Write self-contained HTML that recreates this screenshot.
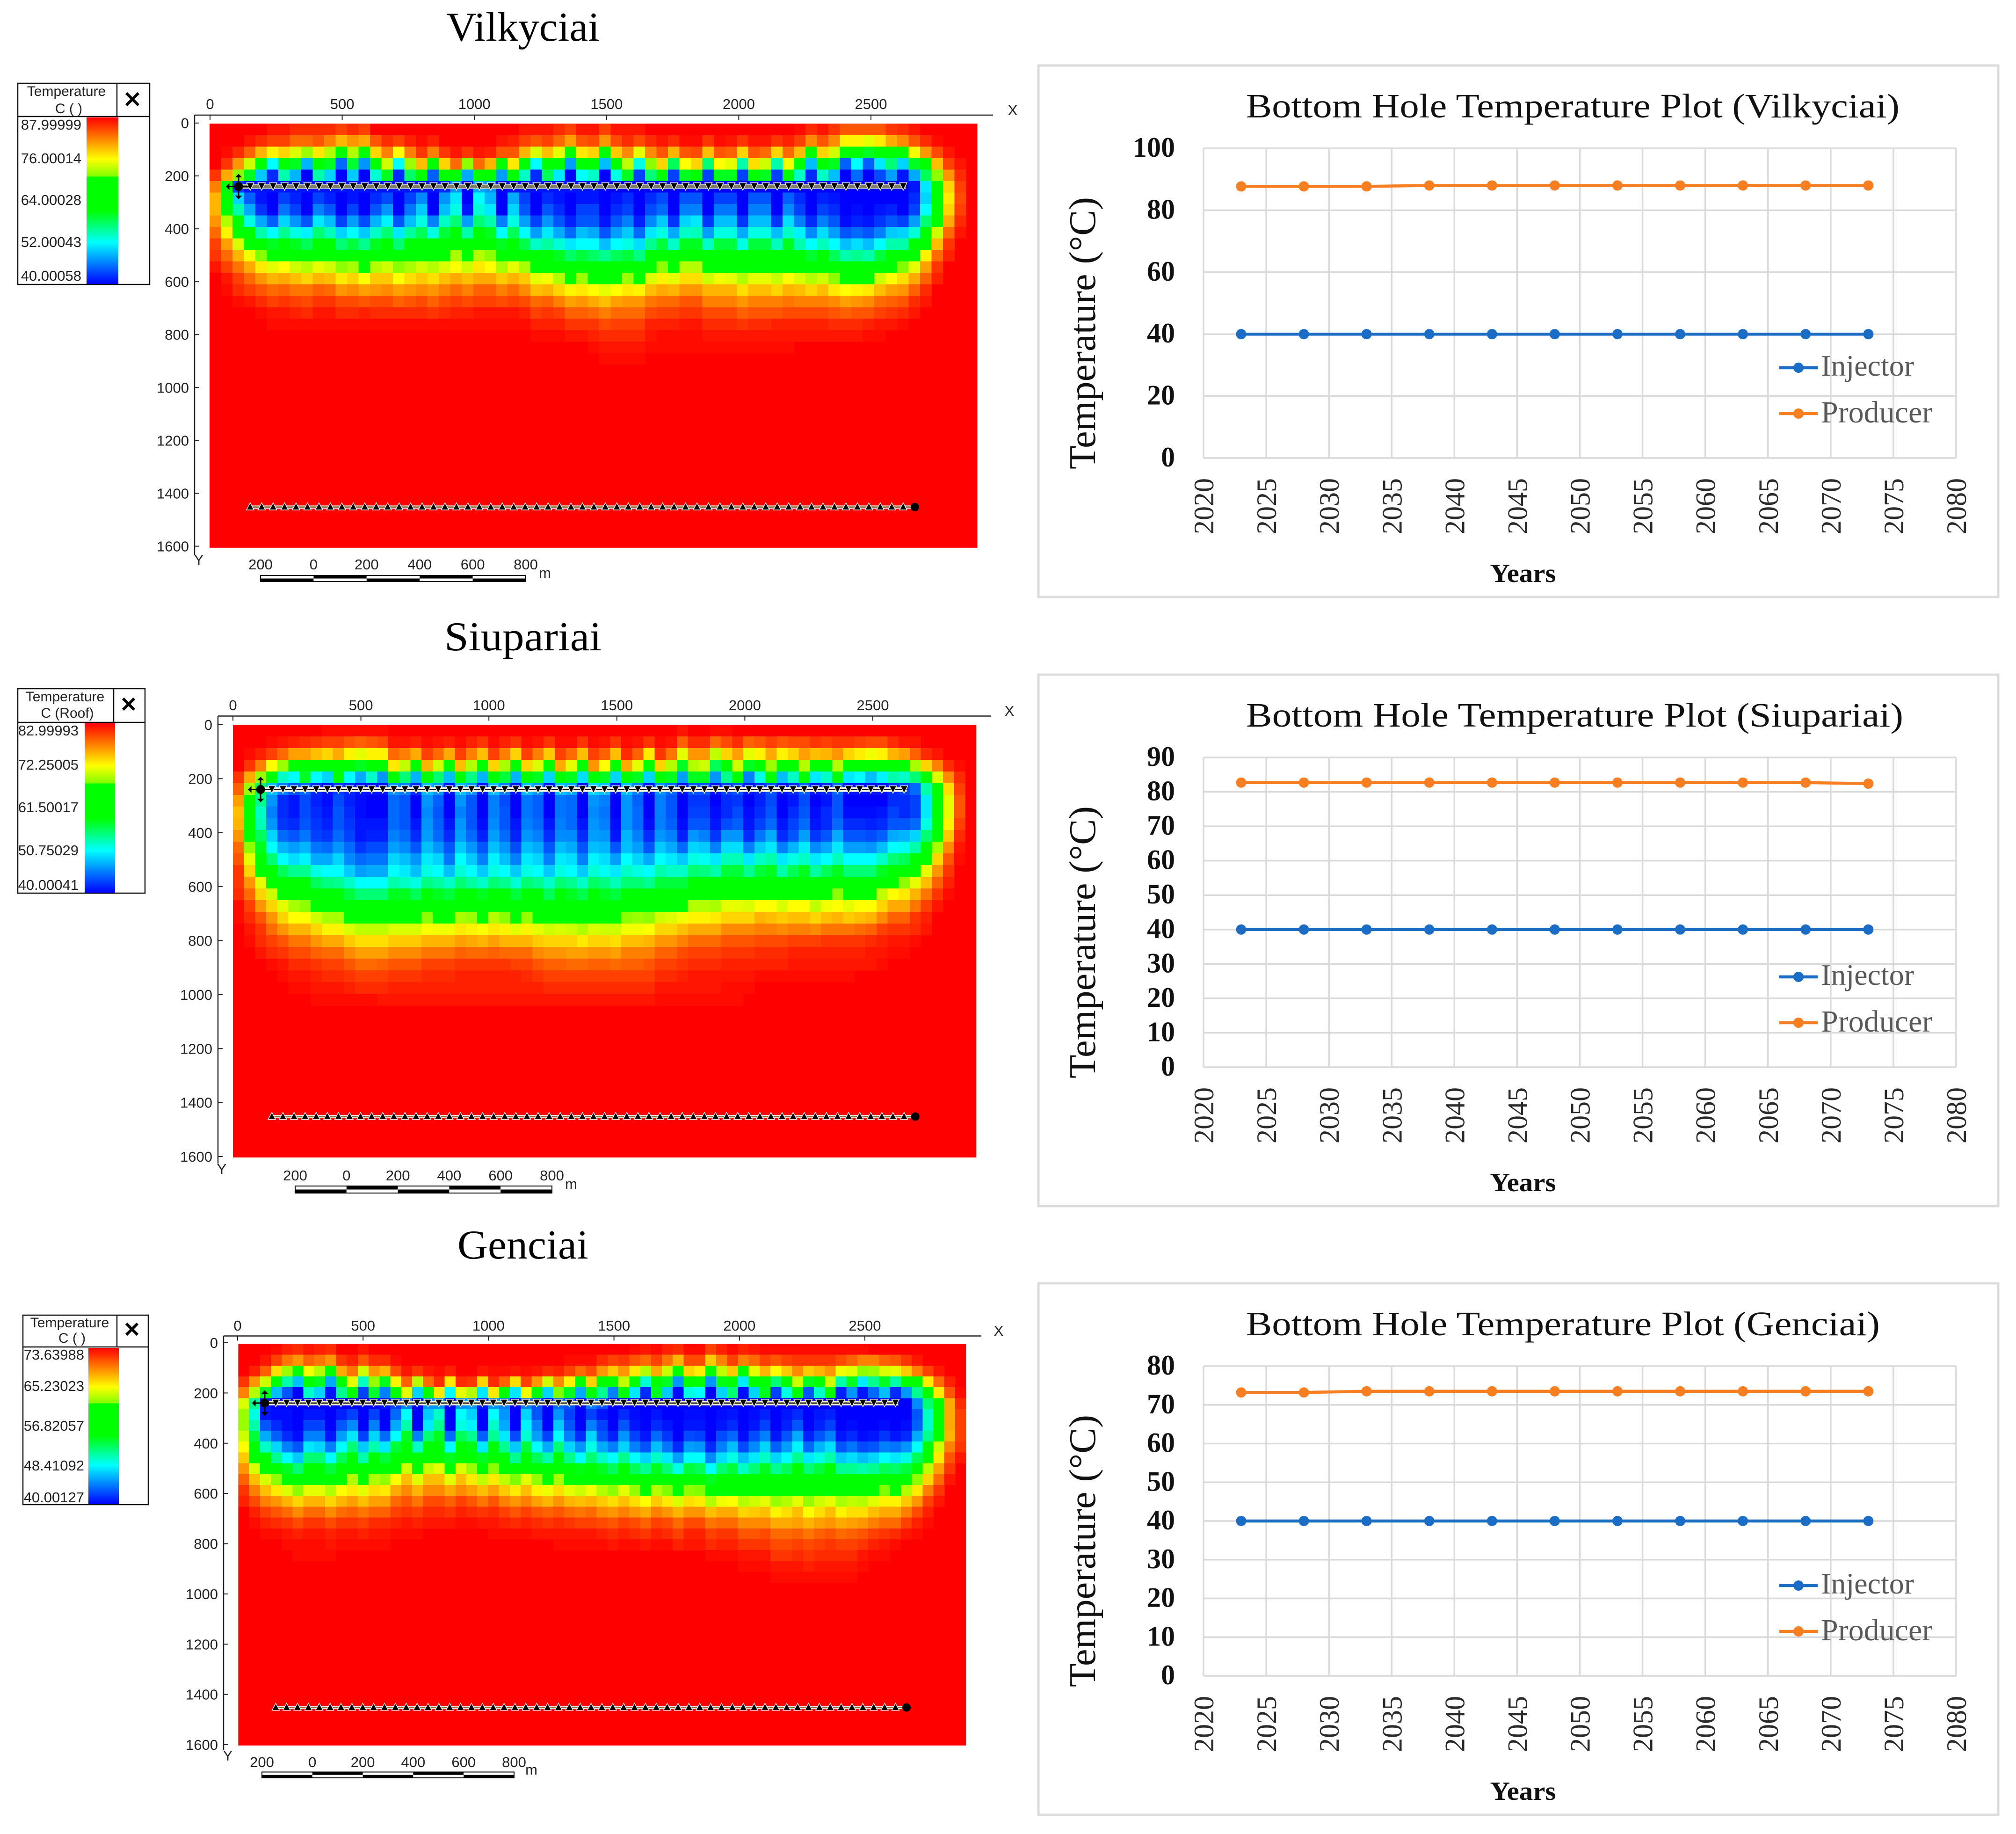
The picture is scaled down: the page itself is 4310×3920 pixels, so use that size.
<!DOCTYPE html>
<html lang="en">
<head>
<meta charset="utf-8">
<title>Bottom hole temperature maps and plots</title>
<style>
html,body{margin:0;padding:0;background:#fff}
svg{display:block}
.map-text{font-family:"Liberation Sans",Arial,sans-serif;font-size:31px;fill:#222}
.serif{font-family:"Liberation Serif","Times New Roman",serif}
</style>
</head>
<body>
<svg xmlns="http://www.w3.org/2000/svg" width="4310" height="3920" viewBox="0 0 4310 3920">
<defs>
<linearGradient id="colorScale" x1="0" y1="0" x2="0" y2="1">
<stop offset="0" stop-color="#ff0000"/><stop offset=".25" stop-color="#ffff00"/><stop offset=".355" stop-color="#80ff00"/><stop offset=".3551" stop-color="#00ff00"/><stop offset=".56" stop-color="#00ff00"/><stop offset=".75" stop-color="#00ffff"/><stop offset="1" stop-color="#0000ff"/>
</linearGradient>
</defs>
<rect x="0" y="0" width="4310" height="3920" fill="#fff"/>

<text class="serif" x="1118" y="87" font-size="88" text-anchor="middle" textLength="328" lengthAdjust="spacingAndGlyphs" fill="#000">Vilkyciai</text>
<text class="serif" x="1118" y="1390" font-size="88" text-anchor="middle" textLength="336" lengthAdjust="spacingAndGlyphs" fill="#000">Siupariai</text>
<text class="serif" x="1118" y="2690" font-size="88" text-anchor="middle" textLength="280" lengthAdjust="spacingAndGlyphs" fill="#000">Genciai</text>

<g id="map-vilkyciai"></g>
<g id="map-siupariai"></g>
<g id="map-genciai"></g>

<g>
<rect x="38" y="178" width="282" height="430" fill="#fff" stroke="#111" stroke-width="2.5"/>
<line x1="38" y1="249" x2="320" y2="249" stroke="#111" stroke-width="2.5"/>
<line x1="250" y1="178" x2="250" y2="249" stroke="#111" stroke-width="2.5"/>
<rect x="185" y="251" width="68" height="356" fill="url(#colorScale)"/>
<text class="map-text" x="142" y="205" text-anchor="middle" style="font-size:30px">Temperature</text>
<text class="map-text" x="147" y="242" text-anchor="middle" style="font-size:30px">C ( )</text>
<path d="M270 199L296 225M296 199L270 225" stroke="#000" stroke-width="6"/>
<text class="map-text" x="174" y="277" text-anchor="end">87.99999</text>
<text class="map-text" x="174" y="349" text-anchor="end">76.00014</text>
<text class="map-text" x="174" y="438" text-anchor="end">64.00028</text>
<text class="map-text" x="174" y="528" text-anchor="end">52.00043</text>
<text class="map-text" x="174" y="600" text-anchor="end">40.00058</text>
</g>

<g>
<rect x="38" y="1472" width="272" height="437" fill="#fff" stroke="#111" stroke-width="2.5"/>
<line x1="38" y1="1544" x2="310" y2="1544" stroke="#111" stroke-width="2.5"/>
<line x1="243" y1="1472" x2="243" y2="1544" stroke="#111" stroke-width="2.5"/>
<rect x="181" y="1546" width="65" height="362" fill="url(#colorScale)"/>
<text class="map-text" x="139" y="1499" text-anchor="middle" style="font-size:30px">Temperature</text>
<text class="map-text" x="144" y="1534" text-anchor="middle" style="font-size:30px">C (Roof)</text>
<path d="M263 1493L287 1517M287 1493L263 1517" stroke="#000" stroke-width="6"/>
<text class="map-text" x="168" y="1572" text-anchor="end">82.99993</text>
<text class="map-text" x="168" y="1645" text-anchor="end">72.25005</text>
<text class="map-text" x="168" y="1736" text-anchor="end">61.50017</text>
<text class="map-text" x="168" y="1828" text-anchor="end">50.75029</text>
<text class="map-text" x="168" y="1902" text-anchor="end">40.00041</text>
</g>

<g>
<rect x="49" y="2811" width="268" height="405" fill="#fff" stroke="#111" stroke-width="2.5"/>
<line x1="49" y1="2879" x2="317" y2="2879" stroke="#111" stroke-width="2.5"/>
<line x1="250" y1="2811" x2="250" y2="2879" stroke="#111" stroke-width="2.5"/>
<rect x="189" y="2881" width="65" height="334" fill="url(#colorScale)"/>
<text class="map-text" x="149" y="2837" text-anchor="middle" style="font-size:30px">Temperature</text>
<text class="map-text" x="154" y="2870" text-anchor="middle" style="font-size:30px">C ( )</text>
<path d="M270 2829L294 2853M294 2829L270 2853" stroke="#000" stroke-width="6"/>
<text class="map-text" x="180" y="2906" text-anchor="end">73.63988</text>
<text class="map-text" x="180" y="2973" text-anchor="end">65.23023</text>
<text class="map-text" x="180" y="3058" text-anchor="end">56.82057</text>
<text class="map-text" x="180" y="3143" text-anchor="end">48.41092</text>
<text class="map-text" x="180" y="3211" text-anchor="end">40.00127</text>
</g>

<g id="chart-vilkyciai">
<rect x="2220" y="140" width="2052" height="1136" fill="#fff" stroke="#dcdcdc" stroke-width="5"/>
<text class="serif" x="2664" y="251" font-size="73" textLength="1397" lengthAdjust="spacingAndGlyphs" fill="#111">Bottom Hole Temperature Plot (Vilkyciai)</text>
<text class="serif" transform="translate(2341,712) rotate(-90)" font-size="80" text-anchor="middle" textLength="582" lengthAdjust="spacingAndGlyphs" fill="#111">Temperature (°C)</text>
<text class="serif" x="3256" y="1244" font-size="56" font-weight="bold" text-anchor="middle" textLength="141" lengthAdjust="spacingAndGlyphs" fill="#111">Years</text>
</g>
<g id="chart-siupariai" transform="translate(0,1302)">
<rect x="2220" y="140" width="2052" height="1136" fill="#fff" stroke="#dcdcdc" stroke-width="5"/>
<text class="serif" x="2664" y="251" font-size="73" textLength="1405" lengthAdjust="spacingAndGlyphs" fill="#111">Bottom Hole Temperature Plot (Siupariai)</text>
<text class="serif" transform="translate(2341,712) rotate(-90)" font-size="80" text-anchor="middle" textLength="582" lengthAdjust="spacingAndGlyphs" fill="#111">Temperature (°C)</text>
<text class="serif" x="3256" y="1244" font-size="56" font-weight="bold" text-anchor="middle" textLength="141" lengthAdjust="spacingAndGlyphs" fill="#111">Years</text>
</g>
<g id="chart-genciai" transform="translate(0,2603)">
<rect x="2220" y="140" width="2052" height="1136" fill="#fff" stroke="#dcdcdc" stroke-width="5"/>
<text class="serif" x="2664" y="251" font-size="73" textLength="1355" lengthAdjust="spacingAndGlyphs" fill="#111">Bottom Hole Temperature Plot (Genciai)</text>
<text class="serif" transform="translate(2341,712) rotate(-90)" font-size="80" text-anchor="middle" textLength="582" lengthAdjust="spacingAndGlyphs" fill="#111">Temperature (°C)</text>
<text class="serif" x="3256" y="1244" font-size="56" font-weight="bold" text-anchor="middle" textLength="141" lengthAdjust="spacingAndGlyphs" fill="#111">Years</text>
</g>
</svg>

<script>
// ---- line chart data ----
const years = [2023,2028,2033,2038,2043,2048,2053,2058,2063,2068,2073];
const xTickYears = [2020,2025,2030,2035,2040,2045,2050,2055,2060,2065,2070,2075,2080];
const vilkyciaiYTicks = [0,20,40,60,80,100];
const siupariaiYTicks = [0,10,20,30,40,50,60,70,80,90];
const genciaiYTicks = [0,10,20,30,40,50,60,70,80];
const vilkyciaiInjector = [40,40,40,40,40,40,40,40,40,40,40];
const vilkyciaiProducer = [87.7,87.7,87.7,88,88,88,88,88,88,88,88];
const siupariaiInjector = [40,40,40,40,40,40,40,40,40,40,40];
const siupariaiProducer = [82.7,82.7,82.7,82.7,82.7,82.7,82.7,82.7,82.7,82.7,82.4];
const genciaiInjector = [40,40,40,40,40,40,40,40,40,40,40];
const genciaiProducer = [73.2,73.2,73.5,73.5,73.5,73.5,73.5,73.5,73.5,73.5,73.5];

// ---- map axis labels ----
const mapXTicks = [0,500,1000,1500,2000,2500];
const mapYTicks = [0,200,400,600,800,1000,1200,1400,1600];
const scaleBarLabels = ['200','0','200','400','600','800'];

// ---- well positions in map metres ----
const injectorWell = [108,240];
const injectorPerforationRange = [152,2622];
const producerWell = [2666,1452];
const producerPerforationRange = [152,2622];
const perforationCount = 58;

// ---- heatmap cells, read row by row on a common 40 (blue) to 88 (red) colour-scale level.
// rows below the last listed row, and columns after the end of a row, are level 88.
const vilkyciaiLevels = [
[88,88,88,88,88,87,87,86,86,86,86,85,86,85,88,88,88,88,88,88,88,88,88,88,88,88,88,87,87,87,86,85,87,87,85,87,87,87,88,88,88,88,88,88,88,88,88,88,88,88,88,87.5,86,87,85.5,84,84,84,84,85.5,86,87],
[88,88,88,87,86,85,85,83,83,84,82,79.5,81,80,84,86,85,86.5,87.5,86.5,88,88,88,88,88,87,86.5,85,84,85,83,80.5,84,84.5,81,84.5,86,84.5,86,87,86,87.5,87.5,85.5,87.5,87,85.5,87,87,85.5,86.5,85,81.5,84,81.5,76.5,76.5,75,77,80,81.5,84,86,87.5],
[88,87.5,86,83.5,79.5,76.5,78,74.5,72,77,73,70,73,70,78,82,76,82,85.5,82,85.5,87,85.5,87,86.5,84,84,79.5,74.5,79,75,70,77,78,70,78.5,81.5,75,81.5,84,79.5,84,84.5,79,84,83.5,78,84,83,78,83,79,70,78,74,70,70,60,70,70,70,75.5,81,84.5,87],
[88,85.5,81,74,70,52,70,60,48.5,70,60,45,59.5,47,70,74,52,72,79,70,78,83,71.5,83,79.5,70,77,70,52,70,70,47.5,70,70,49,70,73.5,53,71.5,78,58,76,78,57,76,75,55,77.5,74,55,75.5,70,49,70,60,44.5,52,44.5,51,57,50,60,70,79,85,87],
[85.5,80,71.5,60,49.5,42,55,48.5,40,55,50,40,49.5,40,53.5,60,42,57.5,66,44.5,70,70,48,70,70,47.5,70,54,42,58,51,40,52,54,40,53,60,43,57,70,43,60,70,43,60,60,43,70,60,43,70,54,42,54,49,40,45,40,43.5,47.5,41,48,58,71.5,81,86],
[82,70,43,41,41,41,41,41,41,41,41,41,41,41,41,41,41,41,41,41,42,47,40,48,47,40,41,41,41,41,41,41,41,41,40,40,40,40,40,40,40,40,40,40,40,40,40,40,40,40,40,40,40,40,40,40,40,40,40,40,40,41,51,70,78,85],
[79.5,70,50,44.5,41,40,43,41.5,40,43,41.5,40,41,40,42,43.5,40,43,46.5,40,47,51,40,52,48.5,40,48,43,40,42,41,40,41,41,40,41,42,40,42,43.5,40,44,44,40,43,43,40,44,44,40,44.5,42,40,41.5,41,40,40,40,40,40,40,42,50,70,77,84.5],
[79.5,70,55,48,42.5,40,45.5,43,40,46,44,40,43,40,44,47,40,45.5,49.5,40,49,53,41,53.5,51,40,50,44,40,44,42,40,43,43,40,42,43,40,43.5,45,40,46,46,40,45.5,45.5,40,46,46,40,46.5,43,40,43,42,40,40.5,40,41,41.5,40,43,52,70,78,85],
[81,73,70,53,48,44.5,50,47,44,51,49,43,47.5,43.5,48.5,51.5,44,49,53,46,54,57,47.5,57,55,46,53,47.5,43,47,44,41.5,44,44,41,44,46,41.5,46.5,49.5,42.5,50,51,42.5,49,49,42.5,49,49,42.5,50.5,46,42,46,44,40.5,41.5,41,42.5,44,43,47.5,57,70,80,86],
[83,76.5,70,70,55,52,56,53,51.5,57,54.5,50,52,49.5,54,57,51,55.5,58,53,59,70,55,70,60,52,58,52,47.5,51,48,45,49,48,44,47.5,49.5,45,51,53,48,54,54.5,47.5,53,53,48,53,53,49,54,51.5,46.5,50.5,47.5,44,45,44,46,49.5,50,53.5,70,74,83,87],
[85,80.5,74.5,70,70,60,70,60,58,70,70,57,59,56,60,70,57,61,70,61,70,70,70,70,70,60,70,58.5,54,55.5,53.5,51,52,52,49,52,53,50.5,56,59,54,60,60,54,59,59,53,59,59,54.5,60,55,52,54.5,52,49,50.5,49,52,55,55,70,70,79,85.5],
[85.5,83,79.5,75.5,71.2,70,70,70,70,70,70,70,70,70,70,70,70,70,70,70,70,72.5,70,73,71.5,70,70,70,61,61,60,57.5,59,57.5,56,58,59,56.5,70,70,70,70,70,70,70,70,70,70,70,70,70,70,59.5,70,58,55,56,55,59,70,70,70,76.5,83,86.5],
[87,85,82.5,80,77,75,76,74,73,75,74,71.5,72.5,70,73,74,71.3,72.5,74,73,74.5,76,74,77,76,72.5,75,72.5,70,70,70,70,70,70,70,70,70,70,70,71.5,70,73,73,70,70,70,70,70,70,70,70,70,70,70,70,70,70,70,70,70,71,75,80.5,85.5],
[88,87,85,83,81,79.5,80,79,78,79.5,79,77,78,76,78.5,78.5,76,77.5,78.5,77.5,79,80,79,80,80,78.5,79.5,78.5,75,75.5,73,70,72,70,70,70,72,70,74.5,76.5,75,77.5,77.5,74,75.5,75,73,75,75,73.8,76,74.5,73,74,71.5,70,70,70,74,76,77.5,80,83.5,86.5],
[88,87.5,86,85,84,83,83.5,82.5,82.5,83.5,83,81,81.5,80.5,81,81.5,80.5,81,81.5,81,82,83,82,83.5,83.5,82,83,81.5,79,79.5,78,76.5,77,76,75,76,77,76.5,79,80,79.5,81,81,79.5,79.5,79.5,77.5,79,79,78,79.5,79,78,79,77,76,76.5,77,79,80.5,81,83.5,86],
[88,88,87.5,87,86,85,85.5,85,84.5,85.5,85.5,84.5,84.5,84,84.5,84.5,83.5,84,84.5,83.5,84.5,85,84.5,85,85,84.5,85,84.5,83,83.5,82,80.5,81,80,79,80.5,81,81,82.5,83,83,84,84,82,82,82,81,82,82,82,82.5,82,82,82,81.5,80.5,81,81.5,83,83.5,84,86,87],
[88,88,88,88,87.5,87,87,86.5,86,87,87,86,86,86.5,86,86,86,86,86,85.5,86,86.5,86.5,87,87,87,87,86.5,85,85.5,85,83.5,83.5,83,82,83,83,83,84.5,85,85,85.5,85.5,84.5,84.5,84.5,83.5,84,84,84,84.5,84.5,84.5,84.5,84,83.5,84,84,85,85.5,86,87],
[88,88,88,88,88,87.5,87.5,87.5,87.5,87.5,87.5,87.5,87.5,87.5,87.5,87.5,87.5,87.5,87.5,87.5,87.5,87.5,87.5,87.5,87.5,87.5,87.5,87.5,86.5,86.5,86.5,85.5,85.5,85.5,84.5,85,85,85,86.5,86.5,86.5,87,87,86,86,86,85.5,86,86,86.5,86.5,86.5,86.5,86.5,86,86,86,86.5,87,87,87.5],
[88,88,88,88,88,88,88,88,88,88,88,88,88,88,88,88,88,88,88,88,88,88,88,88,88,88,88,88,87.5,87.5,87.5,87,87,86.5,86,86,86,86,87,87.5,87.5,87.5,87.5,87,87,87,87,87,87,87,87,87,87,87,87,87,87,87.5,87.5],
[88,88,88,88,88,88,88,88,88,88,88,88,88,88,88,88,88,88,88,88,88,88,88,88,88,88,88,88,88,88,88,88,88,87.5,87,87,87,87,87.5,87.5,87.5,87.5,87.5,87.5,87.5,87.5,87.5,87.5,87.5,87.5,87.5],
[88,88,88,88,88,88,88,88,88,88,88,88,88,88,88,88,88,88,88,88,88,88,88,88,88,88,88,88,88,88,88,88,88,88,87.5,87.5,87.5,87.5]
];
const siupariaiLevels = [
[88,88,88,88,88,88,88,88,87.5,87.5,87.5,87.5,87.5,87.5,88,88,88,88,88,88,88,88,88,88,88,88,88,88,88,88,88,88,88,88,88,88,88,88,88,88,87,88,88,87.5,87.5],
[88,88,88,87.5,87,86.5,86,85.5,85,85,84,83.5,84,84.5,87,87,86.5,87.5,87,86.5,87.5,86.5,85.5,87.5,86.5,85.5,87.5,87,85.5,87.5,87.5,85.5,87.5,87,85.5,87.5,87,85.5,87.5,87,83.5,86,86,83,84.5,86,83.5,84,85,84,84.5,84.5,85.5,85,85.5,85.5,85,84.5,84.5,86,87,87],
[88,87.5,86.5,85,83,80.5,80.5,79,78,80,76.5,75,76.5,76.5,83,82,80,85,83,80,85,82,79,85,82,78,85,82,78.5,85,83,79,85,83.5,79,86,83.5,77,85.5,82.5,75,81,81,73.5,78,80.5,75,76.5,80,76.5,78,80.5,79,79.5,81,78,76.8,75.5,76.5,79.5,80.5,83.5,86,87],
[88,85.5,82,76,72,70,70,70,70,70,70,60,70,70,77,73.5,70,79.5,74,70,79,73,70,78,72.5,70,78,74.5,70,80,75,70,81,76,70,80,75,70,78,73,60,73,74,58,70,74,60,70,72,70,70,73,70,70,73,70,70,70,70,70,70,72.5,78,82,86,87.5],
[85.5,80,72,70,54,52,60,52,50,61,52,48,54,47,70,57,48.5,70,57,49,70,56.5,48.5,70,59,48.5,70,60,50,70,60,50.5,70,60,50,70,60,50,70,60,47.5,60,60,47,56,70,46,53,70,49,54,70,51,54,70,51,52,49,51.5,55,54,57,70,74.5,81.5,86],
[83.5,72,58,49,46,44,45,42,41,43,42,41,41,41,47,46,42,49,47,41,49,47,41,49,46,41,49,47,41,49,48,41,50,49,41,49,46,41,47,45,41,44,44,41,43,44,41,42,44,41,42,44.5,41,42,45,41,41,41,41,42,43,45,55,70,77.5,85],
[80.5,70,56,47,42,41,43.5,41.5,40.5,43.5,41.5,40.5,40,40,45,44,40,47,44.5,40,47,44,40,46,43.5,40,45.5,44.5,40,45.5,45,40,47,46,40,47,44.5,40,46,44,40,42.5,42.5,40,42,42.5,40,41.5,43.5,40,41,43.5,40,41,44,40,40,40,40,42,42,43,51,70,75,84],
[79,70,54,46,42,41,43.5,42,41,44,42,40.5,40,40,45,44,40,46.5,44,40,46,44,40,46,44,40,45.5,44.5,40,45.5,45,40,46.5,45.5,40,47,45,40,46,44,40,43,43,40.5,42,43.5,40.5,42,44,40,42,44,40.5,42,44,40.5,40.5,40.5,41,43,42,43,51,70,75,84],
[79.5,70,54.5,47,42.5,42,44,42.5,41.5,44,42.5,41,41,41,45,44,41,47,44.5,41,47,44,40.5,46.5,44,41,46,45,41,46,45,41,47,46,40.5,47,45,40.5,46,44.5,40.5,44,44,41,43.5,44.5,41,43,45,41,43,45,41,42,45,42,42,41.5,42,44,44,45,53,70,76.5,85],
[81,70,58,50,45,44,45.5,43,42.5,45,43,41,41.5,41.5,46,45,42,47.5,45,42,47.5,45,41.5,47.5,45,41.5,47,46,42,46.5,46.5,42,47.5,47,41,48.5,46,42,47,46,41.5,47,46,42.5,47,47,42,45.5,48,42,44,47.5,42.5,44,48,44,44,43.5,44.5,48,48.5,50,57,70,78.5,86],
[83,71.5,60,52,48.5,47.5,48.5,45.5,45,47,45,42.5,43.5,43.5,47.5,46.5,44,49,47,44,49.5,47,44,49,47,43.5,49,48,44,49,48,44,49,48.5,44,49,47.5,44,49.5,48,45,50,49.5,46,50.5,50.5,46,49.5,51,46,48.5,51,46.5,48,51,47.5,47.5,47,49,52,52.5,55,70,72.5,81.5,87],
[84,75,70,57,52,50.5,51.5,48,48,50,46.5,45,45.5,45.5,50,49,47,51,50,45.5,52,49.5,46,51.5,49,46,51,50,46,51,50.5,46,51.5,50.5,47.5,52,50,48,52,51,49.5,53,52.5,51,54.5,54.5,51,54,55,51,53,54,51,52,54.5,52,52,52,54,57,58,70,70,78,84,87.5],
[85.5,78,70,70,58,56,56,53,52,52,49.5,47.5,48,48,52,51,49,53,52,49,53.5,52,49.5,53,52,49.5,53,52,49.5,53,52,49.5,53.5,52.5,51,54,53,52,55,54,54,57,56.5,55,59,59,56,59,60,55,58,60,55.5,58,60,57,57,57,60,70,70,70,75,81,85.5],
[85.5,81,75,70,70,70,70,58,56.5,56,54,52,52,52,55,54,53,56.5,55.5,54,57,55.5,54,57,56,53.5,57,56,54,57,56,54,57.5,56.5,54.5,57,57,56,59,59,59,70,70,70,70,70,70,70,70,70,70,70,70,70,70,70,70,70,70,70,71.5,75,79,83.5,86.5],
[86,83,78,74,70,70,70,70,70,61,59,57,57,57,60,60,58,70,60,59,70,70,60,70,70,59,70,70,58,70,60,58.5,70,60,59,70,70,70,70,70,70,70,70,70,70,70,70,70,70,70,70,70,70.5,70,71.5,70,70,70.5,73.5,76,77,79.5,82.5,85.5,87.5],
[87.5,85,81,78,75,72.5,71.5,70,70,70,70,70,70,70,70,70,70,70,70,70,70,70,70,70,70,70,70,70,70,70,70,70,70,70,70,70,70,70,70,70,70,73,73,72.5,75,75,74.5,76,76,74.5,76,76,73.5,75.5,76,75,76,76,78,80,80,82.5,85,87],
[87.5,86,84,81,78,76,76,74,72.5,72.5,70,70,70,70,70,70,70,71.5,70,70,72.5,72,70,73,71.5,70,71.8,70,70,70,70,70,70,70,70,71.5,72,71.5,74,74.5,75.5,76.5,76.5,77,78,78,78,79.5,79,78.5,79,79,78,79,79.5,78.5,79,79.5,81.5,83.5,83.5,85.5,86.5],
[88,87,85.5,83,81,79.5,79.5,78,76.5,76.5,74.5,73.5,73.5,73.5,74.5,74.5,74.5,76,75.5,75.5,77,76.5,76,77,76.5,75,76.5,75,74,74.5,74,73,74.5,74,74,75.5,75.5,76,78,78,79,80,80,80,81.5,81.5,81.5,82,82,81.5,82,82,81.5,82.5,82.5,82.5,83,83.5,85,85.5,85.5,86,87],
[88,87.5,86,85,84,82.5,82.5,81,80,80,78.5,77.5,77.5,77.5,78.5,78.5,78.5,79.5,79.5,79.5,80.5,80,79.5,80.5,79.5,79.5,79.5,78.5,78,78,78,77,78,78,77.5,79,79,79.5,81,81,82,83,83,83,84,84,84,84.5,84.5,84.5,85,85,85,85.5,85.5,85.5,85.5,86,86.5,87,87,87.5],
[88,88,87,86,85.5,84.5,84.5,83.5,83,83,81.5,80.5,80.5,80.5,81.5,81.5,81.5,82.5,82.5,82.5,83.5,83,83,83.5,83,83,83,81.5,81,81,80.5,80.5,81,81,80.5,82,82,82,83.5,83.5,84.5,85,85,85,85.5,85.5,85.5,86,86,86,86.5,86.5,86.5,86.5,86.5,86.5,86.5,87,87,87.5,87.5],
[88,88,88,87.5,87,86,86,85.5,85,85,84,83,83,83.5,84,84,84,85,85,85,85.5,85.5,85.5,85.5,85.5,85,85,84,83.5,83.5,83,83,83.5,83.5,83,83.5,83.5,84,85,85,85.5,86,86,86,86.5,86.5,86.5,86.5,86.5,86.5,87,87,87,87,87,87,87,87,87.5],
[88,88,88,88,87.5,87,87,86.5,86,86,85.5,85,85,85,85.5,85.5,85.5,86,86,86,86.5,86.5,86.5,86.5,86.5,86.5,86,85.5,85,85,85,85,85,85,85,85,85,85,86,86,86.5,87,87,87,87,87,87,87.5,87.5,87.5,87.5,87.5,87.5,87.5,87.5,87.5],
[88,88,88,88,88,87.5,87.5,87,87,87,86.5,86,86,86,86.5,86.5,86.5,86.5,86.5,86.5,86.5,86.5,86.5,86.5,86.5,86.5,86.5,86.5,86,86,86,86,86,86,86,86,86,86,87,87,87,87,87,87,87.5,87.5,87.5],
[88,88,88,88,88,88,88,87.5,87.5,87.5,87.5,87.5,87.5,87,87,87,87,87,87,87,87,87,87,87,87,87,87,87,87,87,87,87,87,87,87,87,87,87,87.5,87.5,87.5,87.5,87.5,87.5,87.5,87.5]
];
const genciaiLevels = [
[88,88,88,87.5,86.5,86,87,86.5,86,88,88,87,88,88,88,88,88,88,88,88,88,88,88,88,88,88,88,88,88,88,88,88,88,88,88,88,87.5,87,87.5,86.5,86,87.5,87.5,85,86.5,87.5,86.5,87,87.5,87.5,87.5,87.5,87.5,87.5,87.5,87.5,87.5,87.5],
[88,88,87,85,82.5,81,83.5,82.5,81,85.5,86.5,84,86,86,87.5,88,88,88,88,88,88,88,88,88,88,88,88,88,88,88,87.5,87.5,87.5,86,85,85.5,84,83,85,82.5,79.5,84.5,84.5,78.5,82,85,82,83,85,84,85,85.5,85.5,85.5,85.5,84.5,83.5,82,82,83.5,84,85.5,87],
[88,86.5,83.5,77.5,72,70,75.5,73,70,80,82.5,74,81,79.5,84.5,87,85.5,87,87.5,86.5,88,88,87,87.5,87.5,87,87.5,87,86,86.5,85,83,84.5,81,78.5,81,77,73,80,73.8,70,78,76.8,70,73.5,78.5,70,75,79.5,76,78.5,81.5,78.5,79.5,81,75.5,74.8,71.5,72,74.5,75,78.5,82,85,87],
[85.5,81,74,70,55,49,70,60,48,70,75,54,71.8,60,76.5,83.5,73,83,86,77,86,85.5,78,86,83.5,77.5,85,81,74,81.5,76.5,70,78,70,70,73.5,70,53.5,70,60,47,70,70,47,60.5,70,51,70,70,57,70,74,60,70,74,55,60,51,56,60,55,70,70,77,83,86.5],
[82,73,60,49,44,40,54,50,41,56,70,43,59.5,46,70,75,50,70,77,52,75,73,51,77,70,51,75.5,70,50,71,60,48,70,56,46,70,51,42,60,49.5,40.5,53,52,40,50,57,40.5,50,60,43,53,70,44,54,70,41.5,47,41,45,49,42,47,56,70,77,84,87.5],
[74.5,56,41,40,40,40,40,40,40,40,40,40,40,41,43,46,40,47,47,40,47,47,41,47,46,40,46,44,40,45,44,40,46,44,40,40,40,40,40,40,40,40,40,40,40,40,40,40,40,40,40,40,40,40,40,40,40,40,40,40,40,40,46.5,57,70,80,86],
[72,53,41,40.5,40.5,40,41,41,40,41.5,43,40,43,40,45,52,40,49.5,54,40,52,50,40,52,47,40,50,44,40,47,43,40,43,41,40,42,40.5,40,41,40,40,40.5,40.5,40,40.5,41,40,40.5,41.5,40,41,42,40,41,41.5,40,40,40,40,40,40,40,44,54,70,80,85],
[72,55,44,42,40.5,40,43,43,40,44,46.5,40,46,40,48,55,40,51,56,40,53,51.5,40,54,48,40,51.5,46,40,49.5,44,40,46,43,40,44,41,40,42,41,40,41,41,40,41,42,40,41,43,40,41.5,44,40,41.5,43,40,40.5,40,40,40.5,40,40.5,44.5,54,70,80,85],
[74,59,48,44.5,42,40.5,46,46,41,47.5,51,43,50,45,52,60,46,57,60,45,58,56,44.5,56,51,43.5,53.5,47.5,43,52,46,42,50,44,41.5,47,43,41,45,42.5,40,43.5,43,40,43.5,45,40.5,43.5,46,41,44,48,41.5,44,46,41,42,40.5,41,42.5,41,42,48,56,70,79.5,85],
[76,70,54,50,46,44,51,50,46,52,57,49.5,55,51,59,70,54,70,70,52,70,60.5,51,70,56,49.5,59,52,48,57,50,47,53,48,46,50,46,44,49,45.5,42,47.5,47,42,46,49,43.5,46.5,50,44.5,47.5,51.5,45,48.5,50.5,44,45.5,43.5,44,46,45.5,47,52,70,74,82,85.5],
[78.5,70,70,56,52,49.5,57,57,52,58,70,55,70,59,70,70,61,70,70,60,70,70,60,70,70,56,70,58,55,70,56,52,57,54,52,56,52,50,54,51,47.5,52,52,46.5,50.5,53,49,51,54,50,52,56,51,53,55,49.5,50.5,49,50,52,51,53,58,70,77,84,87],
[81,74.5,70,70,60,57,70,70,59,70,70,70,70,70,70,74,70,73.8,75,70,74.5,72,70,71.5,70,70,70,70,70,70,70,60.5,70,60,58,70,58,56,60,57,53,59,58,52,57,59,54,57,60,56,58,70,57,59,70,56,56,55,56,58,57.5,59,70,73.5,80.5,85.5],
[83.5,79,74.5,71.5,70,70,70,70,70,70,73,70,72.8,71.7,76,79,74.7,79,79,75,79,77,73.5,77,73.5,71,75,71.7,70,72.5,70,70,70,70,70,70,70,70,70,70,61,70,70,60,70,70,70,70,70,70,70,70,70,70,70,70,70,70,70,70,70,70,71.5,78,83,87],
[85.5,82,79,77,74.5,71.5,75,75,73,76,77,75,77.5,77,80,81.5,79.5,81.5,81.5,80,81.5,80.5,79,80.5,78.5,77,79,76.5,75.5,77.5,75,74,75.5,73,71.5,75,71.7,70,73,71,70,71.5,71,70,70,70.5,70,70,70,70,70,70,70,70,70.3,70,70,70,70,71,70.5,73,77,82,85.5],
[86.5,84.5,82,81,79.5,78,79.5,79.5,78,79.5,80.5,79,80.5,80.5,83,84,82.5,84.5,84.5,83.5,85,84,82.5,84,82,81,82,80.5,79.5,81,79.5,79,79.5,78.5,77.5,79,77.5,76,78.5,77,74.5,77.5,77,73,75.5,76,73,74,75,72,73,75,71.8,74,75,72.5,73.5,73,74.8,76.5,76.5,78.5,81,85,87],
[88,86.5,85,84,83,81.5,83,83,81.5,83,83.5,82.5,83.5,83.5,85,85.5,85,86,86,85.5,86.5,86,85.5,86,85,84,85,84,83.5,84,83,82.5,83,81.5,81,82,81,80,82,81,79.5,81,81,79,80,80,78,78.5,79,76.5,77.5,79,76,77.5,79,76.5,77.5,77.5,79,80,80,82,84.5,86.5],
[88,87.5,86.5,86,85.5,84.5,85.5,85.5,84.5,85.5,85.5,85,86,86,86.5,87,86.5,87,87,87,87.5,87.5,87,87,86.5,86,86.5,86,85.5,86,85.5,85,85,84.5,84,85,84.5,83.5,85,84.5,83,84.5,84.5,82.5,83,83,81.5,81.5,81.5,80,80,80.5,79.5,80.5,81,80,80.5,81,82,83,83,85,86.5,87.5],
[88,88,87.5,87.5,87,86.5,87,87,86.5,87,87,86.5,87,87,87.5,87.5,87.5,88,88,88,88,88,88,87.5,87.5,87.5,87.5,87,87,87,87,87,87,86.5,86,86.5,86,85.5,86.5,86,85,86.5,86.5,85,85.5,85.5,84,84,84.5,83,83,83.5,82.5,83.5,84,83,83.5,84,85,85.5,86,87,87.5],
[88,88,88,88,87.5,87.5,87.5,87.5,87,87.5,87.5,87.5,87.5,87.5,88,88,88,88,88,88,88,88,88,88,88,88,88,88,88,87.5,87.5,87.5,87.5,87.5,87,87.5,87.5,87,87.5,87.5,86.5,87,87,86,86.5,86.5,85.5,85.5,85.5,84.5,84.5,85,84.5,85,85.5,85,85,85.5,86.5,87,87.5],
[88,88,88,88,88,87.5,87.5,87.5,87.5,88,88,88,88,88,88,88,88,88,88,88,88,88,88,88,88,88,88,88,88,88,88,88,88,88,88,88,88,88,88,88,88,88,88,87.5,87.5,87.5,87,87,87,85.5,85.5,86,85.5,86,86,86,86,87,87.5,87.5],
[88,88,88,88,88,88,88,88,88,88,88,88,88,88,88,88,88,88,88,88,88,88,88,88,88,88,88,88,88,88,88,88,88,88,88,88,88,88,88,88,88,88,88,88,88,88,87.5,87.5,87.5,87,87,87,86.5,87,87,87,87,87.5],
[88,88,88,88,88,88,88,88,88,88,88,88,88,88,88,88,88,88,88,88,88,88,88,88,88,88,88,88,88,88,88,88,88,88,88,88,88,88,88,88,88,88,88,88,88,88,88,88,88,87.5,87.5,87.5,87.5,87.5,87.5,87.5,87.5]
];

const NS = 'http://www.w3.org/2000/svg';
function svgEl(tag, attrs, parent, text) {
  const node = document.createElementNS(NS, tag);
  for (const k in attrs) node.setAttribute(k, attrs[k]);
  if (text !== undefined) node.textContent = text;
  parent.appendChild(node);
  return node;
}

// colour scale: same stops as the legend bar
const colorStops = [[0,255,0,0],[.25,255,255,0],[.355,128,255,0],[.3551,0,255,0],[.56,0,255,0],[.75,0,255,255],[1,0,0,255]];
function levelColor(level) {
  const f = Math.max(0, Math.min(1, (88 - level) / 48));
  for (let i = 1; i < colorStops.length; i++) {
    const a = colorStops[i-1], b = colorStops[i];
    if (f <= b[0]) {
      const t = (f - a[0]) / (b[0] - a[0]);
      return 'rgb(' + Math.round(a[1]+(b[1]-a[1])*t) + ',' + Math.round(a[2]+(b[2]-a[2])*t) + ',' + Math.round(a[3]+(b[3]-a[3])*t) + ')';
    }
  }
  return 'rgb(0,0,255)';
}

function drawMap(cfg) {
  const g = document.getElementById(cfg.id);
  const xPos = v => cfg.x0 + v * cfg.kx;
  const yPos = v => cfg.y0 + v * cfg.ky;
  const cellX = c => cfg.heatLeft + c * cfg.cellW;
  const cellY = r => cfg.heatTop + r * cfg.cellH;

  const bg = svgEl('rect', {x: cfg.heatLeft, y: cfg.heatTop, width: 67 * cfg.cellW, height: 37 * cfg.cellH, fill: levelColor(88)}, g);
  
  

  const cells = svgEl('g', {'shape-rendering': 'crispEdges'}, g);
  
  
  cfg.levels.forEach((row, r) => {
    row.forEach((level, c) => {
      if (level >= 88) return;
      const cell = svgEl('rect', {x: cellX(c), y: cellY(r), width: cfg.cellW + .6, height: cfg.cellH + .6, fill: levelColor(level)}, cells);
      
      
    });
  });

  // axes
  const xAxis = svgEl('line', {x1: cfg.axisLeft, y1: cfg.axisTop, x2: cfg.axisRight, y2: cfg.axisTop, stroke: '#222', 'stroke-width': 2.5}, g);
  
  
  const yAxis = svgEl('line', {x1: cfg.axisLeft, y1: cfg.axisTop, x2: cfg.axisLeft, y2: cfg.axisBottom, stroke: '#222', 'stroke-width': 2.5}, g);
  
  

  mapXTicks.forEach(v => {
    const tick = svgEl('line', {x1: xPos(v), y1: cfg.axisTop, x2: xPos(v), y2: cfg.axisTop + 10, stroke: '#222', 'stroke-width': 2}, g);
    
    
    const label = svgEl('text', {x: xPos(v), y: cfg.xLabelY + 11, 'text-anchor': 'middle', class: 'map-text'}, g, String(v));
    
    
  });
  mapYTicks.forEach(v => {
    const tick = svgEl('line', {x1: cfg.axisLeft, y1: yPos(v), x2: cfg.axisLeft + 10, y2: yPos(v), stroke: '#222', 'stroke-width': 2}, g);
    
    
    const label = svgEl('text', {x: cfg.axisLeft - 12, y: yPos(v) + 11, 'text-anchor': 'end', class: 'map-text'}, g, String(v));
    
    
  });
  const xName = svgEl('text', {x: cfg.xNameX, y: cfg.xNameY + 11, 'text-anchor': 'middle', class: 'map-text'}, g, 'X');
  
  
  const yName = svgEl('text', {x: cfg.yNameX, y: cfg.yNameY + 11, 'text-anchor': 'middle', class: 'map-text'}, g, 'Y');
  
  

  // producer well line and perforations
  const py = yPos(producerWell[1]);
  const prodEdge = svgEl('line', {x1: xPos(producerPerforationRange[0]) - 4, y1: py, x2: xPos(producerWell[0]), y2: py, stroke: '#e8e8e8', 'stroke-width': 7}, g);
  
  
  const prodLine = svgEl('line', {x1: xPos(producerPerforationRange[0]) - 4, y1: py, x2: xPos(producerWell[0]), y2: py, stroke: '#8a6a3a', 'stroke-width': 3}, g);
  
  
  const prodStep = (producerPerforationRange[1] - producerPerforationRange[0]) / (perforationCount - 1);
  for (let i = 0; i < perforationCount; i++) {
    const px = xPos(producerPerforationRange[0] + i * prodStep);
    const tri = svgEl('polygon', {points: (px-8)+','+(py+6)+' '+(px+8)+','+(py+6)+' '+px+','+(py-9), fill: '#000', stroke: '#eee', 'stroke-width': 1.5}, g);
    
    
  }
  const prodHead = svgEl('circle', {cx: xPos(producerWell[0]), cy: py, r: 9, fill: '#000'}, g);
  
  

  // injector well line and perforations
  const iy = yPos(injectorWell[1]);
  const injEdge = svgEl('line', {x1: xPos(injectorWell[0]), y1: iy, x2: xPos(injectorPerforationRange[1]) + 6, y2: iy, stroke: cfg.injectorEdge, 'stroke-width': 10}, g);
  
  
  const injLine = svgEl('line', {x1: xPos(injectorWell[0]), y1: iy, x2: xPos(injectorPerforationRange[1]) + 6, y2: iy, stroke: cfg.injectorCore, 'stroke-width': cfg.injectorCoreWidth}, g);
  
  
  const injStep = (injectorPerforationRange[1] - injectorPerforationRange[0]) / (perforationCount - 1);
  for (let i = 0; i < perforationCount; i++) {
    const px = xPos(injectorPerforationRange[0] + i * injStep);
    const tri = svgEl('polygon', {points: (px-8)+','+(iy-8)+' '+(px+8)+','+(iy-8)+' '+px+','+(iy+8), fill: '#000', stroke: '#eee', 'stroke-width': 1.5}, g);
    
    
  }
  const ix = xPos(injectorWell[0]);
  const cross = svgEl('path', {d: 'M'+(ix-21)+' '+iy+'H'+(ix+24)+'M'+ix+' '+(iy-23)+'V'+(iy+23)+'M'+(ix-21)+' '+(iy-4)+'l-4 4l4 4zM'+(ix-4)+' '+(iy-21)+'l4 -4l4 4zM'+(ix-4)+' '+(iy+21)+'l4 4l4 -4z', stroke: '#000', 'stroke-width': 3, fill: '#000'}, g);
  
  
  const injHead = svgEl('circle', {cx: ix, cy: iy, r: 9.5, fill: '#000'}, g);
  
  

  // scale bar
  const segW = (cfg.barRight - cfg.barLeft) / 5;
  const barH = cfg.barBottom - cfg.barTop;
  for (let i = 0; i < 5; i++) {
    const topSeg = svgEl('rect', {x: cfg.barLeft + i * segW, y: cfg.barTop, width: segW, height: barH / 2, fill: i % 2 ? '#000' : '#fff'}, g);
    
    
    const bottomSeg = svgEl('rect', {x: cfg.barLeft + i * segW, y: cfg.barTop + barH / 2, width: segW, height: barH / 2, fill: i % 2 ? '#fff' : '#000'}, g);
    
    
  }
  const barBox = svgEl('rect', {x: cfg.barLeft, y: cfg.barTop, width: cfg.barRight - cfg.barLeft, height: barH, fill: 'none', stroke: '#000', 'stroke-width': 2}, g);
  
  
  scaleBarLabels.forEach((t, i) => {
    const label = svgEl('text', {x: cfg.barLeft + i * segW, y: cfg.barLabelY + 11, 'text-anchor': 'middle', class: 'map-text'}, g, t);
    
    
  });
  const unit = svgEl('text', {x: cfg.unitX, y: cfg.unitY + 8, 'text-anchor': 'middle', class: 'map-text'}, g, 'm');
  
  
}

drawMap({id:'map-vilkyciai', levels:vilkyciaiLevels, x0:449, y0:263, kx:.5652, ky:.5653,
  heatLeft:448, heatTop:264.3, cellW:24.5, cellH:24.5,
  axisLeft:416, axisTop:246, axisRight:2123, axisBottom:1186, xLabelY:222,
  xNameX:2165, xNameY:235, yNameX:425, yNameY:1196,
  injectorEdge:'#c8c8c8', injectorCore:'#808060', injectorCoreWidth:7,
  barLeft:557, barRight:1124, barTop:1230, barBottom:1243, barLabelY:1206, unitX:1165, unitY:1227});
drawMap({id:'map-siupariai', levels:siupariaiLevels, x0:498, y0:1549, kx:.5472, ky:.5769,
  heatLeft:498, heatTop:1549, cellW:23.72, cellH:25,
  axisLeft:466, axisTop:1530.5, axisRight:2119, axisBottom:2487, xLabelY:1507,
  xNameX:2158, xNameY:1519, yNameX:474, yNameY:2498,
  injectorEdge:'#f4f4e0', injectorCore:'#000', injectorCoreWidth:2.5,
  barLeft:631, barRight:1180, barTop:2535, barBottom:2550, barLabelY:2512, unitX:1221, unitY:2533});
drawMap({id:'map-genciai', levels:genciaiLevels, x0:508, y0:2870, kx:.5364, ky:.5369,
  heatLeft:509.4, heatTop:2872.4, cellW:23.22, cellH:23.2,
  axisLeft:478, axisTop:2855.5, axisRight:2098, axisBottom:3741, xLabelY:2833,
  xNameX:2135, xNameY:2844, yNameX:487, yNameY:3752,
  injectorEdge:'#f4f4c8', injectorCore:'#000', injectorCoreWidth:2.5,
  barLeft:560, barRight:1099, barTop:3787.5, barBottom:3800, barLabelY:3766, unitX:1136, unitY:3785});

// ---- line charts ----
const plotLeft = 2573, plotRight = 4182, plotTop = 317, plotBottom = 979;
const seriesBlue = '#1b6cc4', seriesOrange = '#f77f22';

function drawChart(id, yTicks, injector, producer) {
  const g = document.getElementById(id);
  const yMax = yTicks[yTicks.length - 1];
  const xScale = year => plotLeft + (year - xTickYears[0]) / (xTickYears[xTickYears.length - 1] - xTickYears[0]) * (plotRight - plotLeft);
  const yScale = t => plotBottom - t / yMax * (plotBottom - plotTop);

  xTickYears.forEach(year => {
    const grid = svgEl('line', {x1: xScale(year), y1: plotTop, x2: xScale(year), y2: plotBottom, stroke: '#dadada', 'stroke-width': 3.5}, g);
    
    
    const label = svgEl('text', {transform: 'translate(' + xScale(year) + ',1022) rotate(-90)', 'text-anchor': 'end', dy: '.35em', 'font-size': 60, fill: '#2a2a2a', class: 'serif'}, g, String(year));
    
    
  });
  yTicks.forEach(t => {
    const grid = svgEl('line', {x1: plotLeft, y1: yScale(t), x2: plotRight, y2: yScale(t), stroke: '#dadada', 'stroke-width': 3.5}, g);
    
    
    const label = svgEl('text', {x: 2512, y: yScale(t) - 3, dy: '.35em', 'text-anchor': 'end', 'font-size': 60, 'font-weight': 'bold', fill: '#111', class: 'serif'}, g, String(t));
    
    
  });

  const injectorLine = svgEl('polyline', {points: years.map((y, i) => xScale(y) + ',' + yScale(injector[i])).join(' '), fill: 'none', stroke: seriesBlue, 'stroke-width': 6.5}, g);
  
  
  const producerLine = svgEl('polyline', {points: years.map((y, i) => xScale(y) + ',' + yScale(producer[i])).join(' '), fill: 'none', stroke: seriesOrange, 'stroke-width': 6.5}, g);
  
  
  years.forEach((y, i) => {
    const p1 = svgEl('circle', {cx: xScale(y), cy: yScale(injector[i]), r: 11, fill: seriesBlue}, g);
    
    
    const p2 = svgEl('circle', {cx: xScale(y), cy: yScale(producer[i]), r: 11, fill: seriesOrange}, g);
    
    
  });

  const keyA = svgEl('line', {x1: 3804, y1: 786, x2: 3886, y2: 786, stroke: seriesBlue, 'stroke-width': 6.5}, g);
  
  
  const dotA = svgEl('circle', {cx: 3845, cy: 786, r: 11, fill: seriesBlue}, g);
  
  
  const textA = svgEl('text', {x: 3893, y: 803, 'font-size': 64, fill: '#595959', class: 'serif'}, g, 'Injector');
  
  
  const keyB = svgEl('line', {x1: 3804, y1: 884, x2: 3886, y2: 884, stroke: seriesOrange, 'stroke-width': 6.5}, g);
  
  
  const dotB = svgEl('circle', {cx: 3845, cy: 884, r: 11, fill: seriesOrange}, g);
  
  
  const textB = svgEl('text', {x: 3893, y: 903, 'font-size': 66, fill: '#595959', class: 'serif'}, g, 'Producer');
  
  
}

drawChart('chart-vilkyciai', vilkyciaiYTicks, vilkyciaiInjector, vilkyciaiProducer);
drawChart('chart-siupariai', siupariaiYTicks, siupariaiInjector, siupariaiProducer);
drawChart('chart-genciai', genciaiYTicks, genciaiInjector, genciaiProducer);
</script>
</body>
</html>
